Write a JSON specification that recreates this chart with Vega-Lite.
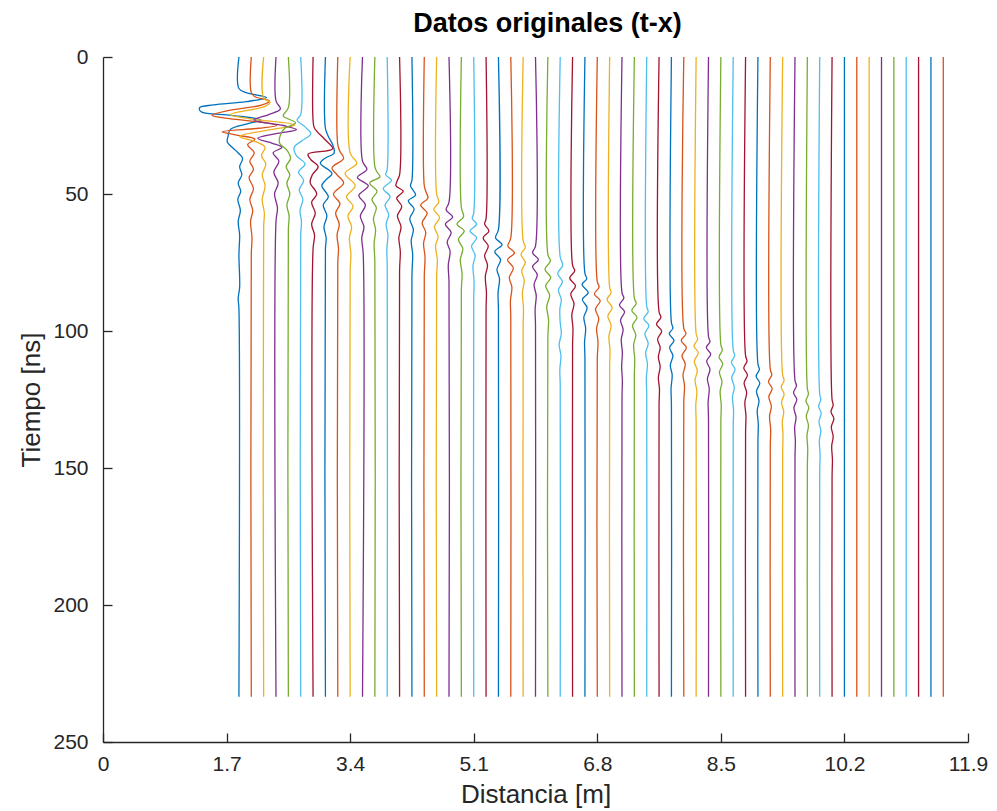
{
"$schema":"https://vega.github.io/schema/vega-lite/v6.json",
"width":865,"height":685,
"autosize":{"type":"none"},
"padding":{"left":103,"top":57,"right":29,"bottom":69},
"background":"white",
"title":{"text":"Datos originales (t-x)","fontSize":27,"fontWeight":"bold","font":"Liberation Sans","color":"black","anchor":"middle","offset":8,"dx":12},
"config":{"view":{"stroke":null},"axis":{"grid":false,"domainColor":"#262626","tickColor":"#262626","labelColor":"#262626","titleColor":"#262626","labelFont":"Liberation Sans","titleFont":"Liberation Sans","labelFontSize":21,"titleFontSize":26,"titleFontWeight":"normal","tickSize":-9,"domainWidth":1.3,"tickWidth":1.3,"labelFlush":false}},
"data":{"values":[
{"k":0,"t":0,"x":1.87},{"k":0,"t":11.5,"x":1.87},{"k":0,"t":13,"x":1.97},{"k":0,"t":14.8,"x":2.25},{"k":0,"t":16.3,"x":1.97},{"k":0,"t":17.5,"x":1.52},{"k":0,"t":18.5,"x":1.33},{"k":0,"t":20,"x":1.35},{"k":0,"t":21.3,"x":1.77},{"k":0,"t":23,"x":2.17},{"k":0,"t":24.5,"x":1.97},{"k":0,"t":26.5,"x":1.75},{"k":0,"t":29,"x":1.72},{"k":0,"t":31,"x":1.71},{"k":0,"t":34,"x":1.82},{"k":0,"t":37,"x":1.92},{"k":0,"t":40,"x":1.88},{"k":0,"t":43,"x":1.91},{"k":0,"t":46,"x":1.86},{"k":0,"t":49,"x":1.895},{"k":0,"t":52,"x":1.855},{"k":0,"t":56,"x":1.89},{"k":0,"t":60,"x":1.86},{"k":0,"t":65,"x":1.88},{"k":0,"t":72,"x":1.87},{"k":0,"t":84,"x":1.88},{"k":0,"t":88,"x":1.86},{"k":0,"t":92,"x":1.87},{"k":0,"t":233.5,"x":1.87},
{"k":1,"t":0,"x":2.04},{"k":1,"t":13,"x":2.04},{"k":1,"t":14.5,"x":2.09},{"k":1,"t":16,"x":2.29},{"k":1,"t":17.5,"x":2.19},{"k":1,"t":19.5,"x":1.74},{"k":1,"t":21.3,"x":1.5},{"k":1,"t":22.5,"x":1.74},{"k":1,"t":24,"x":2.24},{"k":1,"t":25,"x":2.39},{"k":1,"t":26,"x":2.14},{"k":1,"t":27.3,"x":1.64},{"k":1,"t":28.5,"x":1.84},{"k":1,"t":30,"x":2.09},{"k":1,"t":32,"x":1.99},{"k":1,"t":35,"x":2.08},{"k":1,"t":38,"x":2.02},{"k":1,"t":41,"x":2.07},{"k":1,"t":44,"x":2.01},{"k":1,"t":48,"x":2.07},{"k":1,"t":52,"x":2.02},{"k":1,"t":56,"x":2.06},{"k":1,"t":60,"x":2.03},{"k":1,"t":66,"x":2.05},{"k":1,"t":72,"x":2.04},{"k":1,"t":233.5,"x":2.04},
{"k":2,"t":0,"x":2.21},{"k":2,"t":15,"x":2.21},{"k":2,"t":16.5,"x":2.3},{"k":2,"t":18,"x":2.23},{"k":2,"t":21,"x":1.75},{"k":2,"t":22.5,"x":2.01},{"k":2,"t":24.8,"x":2.64},{"k":2,"t":26.5,"x":2.31},{"k":2,"t":29,"x":1.88},{"k":2,"t":31,"x":2.11},{"k":2,"t":33,"x":2.23},{"k":2,"t":36,"x":2.18},{"k":2,"t":39,"x":2.24},{"k":2,"t":43,"x":2.19},{"k":2,"t":47,"x":2.23},{"k":2,"t":52,"x":2.19},{"k":2,"t":57,"x":2.22},{"k":2,"t":62,"x":2.21},{"k":2,"t":233.5,"x":2.21},
{"k":3,"t":0,"x":2.38},{"k":3,"t":16,"x":2.38},{"k":3,"t":19,"x":2.44},{"k":3,"t":21,"x":2.28},{"k":3,"t":23,"x":2.08},{"k":3,"t":25,"x":2.48},{"k":3,"t":26.5,"x":2.66},{"k":3,"t":28,"x":2.38},{"k":3,"t":29.7,"x":2.13},{"k":3,"t":31.5,"x":2.33},{"k":3,"t":33,"x":2.46},{"k":3,"t":35,"x":2.34},{"k":3,"t":38,"x":2.42},{"k":3,"t":42,"x":2.35},{"k":3,"t":46,"x":2.41},{"k":3,"t":50,"x":2.36},{"k":3,"t":55,"x":2.4},{"k":3,"t":60,"x":2.38},{"k":3,"t":233.5,"x":2.38},
{"k":4,"t":0,"x":2.55},{"k":4,"t":18.5,"x":2.55},{"k":4,"t":21.5,"x":2.48},{"k":4,"t":24,"x":2.65},{"k":4,"t":26,"x":2.5},{"k":4,"t":28.5,"x":2.44},{"k":4,"t":31.5,"x":2.43},{"k":4,"t":34,"x":2.53},{"k":4,"t":37,"x":2.58},{"k":4,"t":40,"x":2.52},{"k":4,"t":43,"x":2.57},{"k":4,"t":46,"x":2.53},{"k":4,"t":50,"x":2.57},{"k":4,"t":54,"x":2.53},{"k":4,"t":58,"x":2.56},{"k":4,"t":63,"x":2.55},{"k":4,"t":233.5,"x":2.55},
{"k":5,"t":0,"x":2.72},{"k":5,"t":21,"x":2.72},{"k":5,"t":23,"x":2.67},{"k":5,"t":25.5,"x":2.78},{"k":5,"t":28,"x":2.86},{"k":5,"t":30.5,"x":2.74},{"k":5,"t":33,"x":2.63},{"k":5,"t":36,"x":2.66},{"k":5,"t":39,"x":2.78},{"k":5,"t":42,"x":2.69},{"k":5,"t":45,"x":2.76},{"k":5,"t":48.5,"x":2.7},{"k":5,"t":52,"x":2.75},{"k":5,"t":56,"x":2.71},{"k":5,"t":60,"x":2.73},{"k":5,"t":65,"x":2.72},{"k":5,"t":233.5,"x":2.72},
{"k":6,"t":0,"x":2.89},{"k":6,"t":23,"x":2.89},{"k":6,"t":26,"x":2.91},{"k":6,"t":30,"x":3.05},{"k":6,"t":33.5,"x":3.16},{"k":6,"t":35.5,"x":2.82},{"k":6,"t":37.5,"x":2.86},{"k":6,"t":40,"x":2.96},{"k":6,"t":43,"x":2.88},{"k":6,"t":45.8,"x":2.85},{"k":6,"t":50,"x":2.94},{"k":6,"t":53,"x":2.87},{"k":6,"t":57,"x":2.92},{"k":6,"t":61,"x":2.87},{"k":6,"t":65,"x":2.91},{"k":6,"t":70,"x":2.89},{"k":6,"t":233.5,"x":2.89},
{"k":7,"t":0,"x":3.06},{"k":7,"t":26,"x":3.06},{"k":7,"t":29,"x":3.1},{"k":7,"t":32,"x":3.16},{"k":7,"t":35,"x":3.18},{"k":7,"t":37,"x":3.05},{"k":7,"t":38.8,"x":2.99},{"k":7,"t":42.5,"x":3.15},{"k":7,"t":45,"x":3.06},{"k":7,"t":47,"x":3.01},{"k":7,"t":51,"x":3.1},{"k":7,"t":54,"x":3.03},{"k":7,"t":58,"x":3.08},{"k":7,"t":62,"x":3.04},{"k":7,"t":66,"x":3.07},{"k":7,"t":70,"x":3.06},{"k":7,"t":233.5,"x":3.06},
{"k":8,"t":0,"x":3.23},{"k":8,"t":32,"x":3.23},{"k":8,"t":34.5,"x":3.26},{"k":8,"t":37,"x":3.31},{"k":8,"t":40.5,"x":3.15},{"k":8,"t":43,"x":3.22},{"k":8,"t":46,"x":3.31},{"k":8,"t":50,"x":3.17},{"k":8,"t":53.5,"x":3.26},{"k":8,"t":57,"x":3.2},{"k":8,"t":61,"x":3.25},{"k":8,"t":65,"x":3.22},{"k":8,"t":70,"x":3.24},{"k":8,"t":75,"x":3.23},{"k":8,"t":233.5,"x":3.23},
{"k":9,"t":0,"x":3.4},{"k":9,"t":35,"x":3.4},{"k":9,"t":38.8,"x":3.49},{"k":9,"t":42.5,"x":3.33},{"k":9,"t":47,"x":3.47},{"k":9,"t":51,"x":3.35},{"k":9,"t":54.5,"x":3.44},{"k":9,"t":58,"x":3.37},{"k":9,"t":62,"x":3.42},{"k":9,"t":66,"x":3.39},{"k":9,"t":72,"x":3.41},{"k":9,"t":78,"x":3.4},{"k":9,"t":233.5,"x":3.4},
{"k":10,"t":0,"x":3.57},{"k":10,"t":38,"x":3.57},{"k":10,"t":41,"x":3.63},{"k":10,"t":44,"x":3.5},{"k":10,"t":47,"x":3.65},{"k":10,"t":50.5,"x":3.52},{"k":10,"t":54,"x":3.61},{"k":10,"t":58,"x":3.54},{"k":10,"t":62,"x":3.59},{"k":10,"t":66,"x":3.56},{"k":10,"t":72,"x":3.58},{"k":10,"t":233.5,"x":3.57},
{"k":11,"t":0,"x":3.74},{"k":11,"t":40,"x":3.74},{"k":11,"t":42,"x":3.77},{"k":11,"t":43.7,"x":3.81},{"k":11,"t":46,"x":3.67},{"k":11,"t":49,"x":3.77},{"k":11,"t":52,"x":3.7},{"k":11,"t":55,"x":3.76},{"k":11,"t":59,"x":3.72},{"k":11,"t":63,"x":3.75},{"k":11,"t":68,"x":3.73},{"k":11,"t":75,"x":3.74},{"k":11,"t":233.5,"x":3.74},
{"k":12,"t":0,"x":3.91},{"k":12,"t":41,"x":3.91},{"k":12,"t":43,"x":3.89},{"k":12,"t":45,"x":3.97},{"k":12,"t":48,"x":3.855},{"k":12,"t":51,"x":3.95},{"k":12,"t":54,"x":3.88},{"k":12,"t":57.5,"x":3.93},{"k":12,"t":61,"x":3.895},{"k":12,"t":65,"x":3.92},{"k":12,"t":70,"x":3.905},{"k":12,"t":76,"x":3.91},{"k":12,"t":233.5,"x":3.91},
{"k":13,"t":0,"x":4.08},{"k":13,"t":43,"x":4.08},{"k":13,"t":45,"x":4.05},{"k":13,"t":47,"x":4.03},{"k":13,"t":49,"x":4.13},{"k":13,"t":51.5,"x":4.04},{"k":13,"t":54.5,"x":4.11},{"k":13,"t":58,"x":4.05},{"k":13,"t":62,"x":4.1},{"k":13,"t":66,"x":4.07},{"k":13,"t":71,"x":4.09},{"k":13,"t":78,"x":4.08},{"k":13,"t":233.5,"x":4.08},
{"k":14,"t":0,"x":4.25},{"k":14,"t":45,"x":4.25},{"k":14,"t":47,"x":4.23},{"k":14,"t":50.4,"x":4.3},{"k":14,"t":52.5,"x":4.2},{"k":14,"t":55.5,"x":4.28},{"k":14,"t":59,"x":4.22},{"k":14,"t":63,"x":4.27},{"k":14,"t":67,"x":4.24},{"k":14,"t":72,"x":4.26},{"k":14,"t":80,"x":4.25},{"k":14,"t":233.5,"x":4.25},
{"k":15,"t":0,"x":4.42},{"k":15,"t":47,"x":4.42},{"k":15,"t":49,"x":4.44},{"k":15,"t":51.5,"x":4.47},{"k":15,"t":54,"x":4.37},{"k":15,"t":57,"x":4.46},{"k":15,"t":60.5,"x":4.39},{"k":15,"t":64,"x":4.44},{"k":15,"t":68,"x":4.41},{"k":15,"t":73,"x":4.43},{"k":15,"t":80,"x":4.42},{"k":15,"t":233.5,"x":4.42},
{"k":16,"t":0,"x":4.59},{"k":16,"t":50,"x":4.59},{"k":16,"t":53,"x":4.62},{"k":16,"t":55.6,"x":4.55},{"k":16,"t":58.5,"x":4.63},{"k":16,"t":62,"x":4.56},{"k":16,"t":65.5,"x":4.61},{"k":16,"t":69,"x":4.575},{"k":16,"t":74,"x":4.6},{"k":16,"t":80,"x":4.59},{"k":16,"t":233.5,"x":4.59},
{"k":17,"t":0,"x":4.76},{"k":17,"t":53,"x":4.76},{"k":17,"t":55.8,"x":4.72},{"k":17,"t":58.4,"x":4.81},{"k":17,"t":61,"x":4.71},{"k":17,"t":64,"x":4.79},{"k":17,"t":67.5,"x":4.735},{"k":17,"t":71,"x":4.775},{"k":17,"t":76,"x":4.75},{"k":17,"t":82,"x":4.76},{"k":17,"t":233.5,"x":4.76},
{"k":18,"t":0,"x":4.93},{"k":18,"t":55,"x":4.93},{"k":18,"t":58.3,"x":4.96},{"k":18,"t":61,"x":4.87},{"k":18,"t":63.5,"x":4.97},{"k":18,"t":66.5,"x":4.89},{"k":18,"t":70,"x":4.95},{"k":18,"t":74,"x":4.915},{"k":18,"t":79,"x":4.94},{"k":18,"t":85,"x":4.93},{"k":18,"t":233.5,"x":4.93},
{"k":19,"t":0,"x":5.1},{"k":19,"t":57,"x":5.1},{"k":19,"t":59,"x":5.08},{"k":19,"t":61,"x":5.14},{"k":19,"t":63.5,"x":5.05},{"k":19,"t":66,"x":5.14},{"k":19,"t":69,"x":5.07},{"k":19,"t":72.5,"x":5.12},{"k":19,"t":76,"x":5.09},{"k":19,"t":82,"x":5.105},{"k":19,"t":88,"x":5.1},{"k":19,"t":233.5,"x":5.1},
{"k":20,"t":0,"x":5.27},{"k":20,"t":59,"x":5.27},{"k":20,"t":61,"x":5.25},{"k":20,"t":63.5,"x":5.31},{"k":20,"t":66,"x":5.23},{"k":20,"t":69,"x":5.3},{"k":20,"t":72.5,"x":5.25},{"k":20,"t":76,"x":5.29},{"k":20,"t":80,"x":5.26},{"k":20,"t":86,"x":5.275},{"k":20,"t":92,"x":5.27},{"k":20,"t":233.5,"x":5.27},
{"k":21,"t":0,"x":5.44},{"k":21,"t":63,"x":5.44},{"k":21,"t":66,"x":5.4},{"k":21,"t":68.5,"x":5.49},{"k":21,"t":71,"x":5.39},{"k":21,"t":74,"x":5.47},{"k":21,"t":77.5,"x":5.42},{"k":21,"t":81,"x":5.455},{"k":21,"t":86,"x":5.435},{"k":21,"t":92,"x":5.44},{"k":21,"t":233.5,"x":5.44},
{"k":22,"t":0,"x":5.61},{"k":22,"t":66,"x":5.61},{"k":22,"t":69,"x":5.57},{"k":22,"t":71.5,"x":5.66},{"k":22,"t":74,"x":5.565},{"k":22,"t":77,"x":5.645},{"k":22,"t":80.5,"x":5.59},{"k":22,"t":84,"x":5.625},{"k":22,"t":89,"x":5.605},{"k":22,"t":95,"x":5.61},{"k":22,"t":233.5,"x":5.61},
{"k":23,"t":0,"x":5.78},{"k":23,"t":67,"x":5.78},{"k":23,"t":69.5,"x":5.81},{"k":23,"t":72,"x":5.75},{"k":23,"t":75,"x":5.81},{"k":23,"t":78,"x":5.76},{"k":23,"t":81.5,"x":5.795},{"k":23,"t":86,"x":5.77},{"k":23,"t":92,"x":5.785},{"k":23,"t":98,"x":5.78},{"k":23,"t":233.5,"x":5.78},
{"k":24,"t":0,"x":5.95},{"k":24,"t":69,"x":5.95},{"k":24,"t":71.5,"x":5.91},{"k":24,"t":74,"x":5.99},{"k":24,"t":76.5,"x":5.91},{"k":24,"t":79.5,"x":5.975},{"k":24,"t":83,"x":5.93},{"k":24,"t":87,"x":5.96},{"k":24,"t":92,"x":5.945},{"k":24,"t":98,"x":5.95},{"k":24,"t":233.5,"x":5.95},
{"k":25,"t":0,"x":6.12},{"k":25,"t":72,"x":6.12},{"k":25,"t":74.5,"x":6.155},{"k":25,"t":77.5,"x":6.08},{"k":25,"t":80.5,"x":6.16},{"k":25,"t":83.5,"x":6.09},{"k":25,"t":87,"x":6.145},{"k":25,"t":91,"x":6.105},{"k":25,"t":96,"x":6.13},{"k":25,"t":102,"x":6.12},{"k":25,"t":233.5,"x":6.12},
{"k":26,"t":0,"x":6.29},{"k":26,"t":73,"x":6.29},{"k":26,"t":76,"x":6.325},{"k":26,"t":79,"x":6.255},{"k":26,"t":82,"x":6.32},{"k":26,"t":85,"x":6.265},{"k":26,"t":88.5,"x":6.305},{"k":26,"t":92,"x":6.285},{"k":26,"t":97,"x":6.29},{"k":26,"t":101,"x":6.305},{"k":26,"t":105,"x":6.275},{"k":26,"t":109,"x":6.3},{"k":26,"t":114,"x":6.285},{"k":26,"t":120,"x":6.29},{"k":26,"t":233.5,"x":6.29},
{"k":27,"t":0,"x":6.46},{"k":27,"t":76,"x":6.46},{"k":27,"t":78,"x":6.49},{"k":27,"t":80.7,"x":6.42},{"k":27,"t":83.5,"x":6.5},{"k":27,"t":86.5,"x":6.435},{"k":27,"t":90,"x":6.48},{"k":27,"t":94,"x":6.45},{"k":27,"t":99,"x":6.465},{"k":27,"t":105,"x":6.46},{"k":27,"t":233.5,"x":6.46},
{"k":28,"t":0,"x":6.63},{"k":28,"t":79,"x":6.63},{"k":28,"t":81,"x":6.655},{"k":28,"t":83,"x":6.59},{"k":28,"t":86,"x":6.675},{"k":28,"t":88.5,"x":6.595},{"k":28,"t":91.5,"x":6.66},{"k":28,"t":95,"x":6.615},{"k":28,"t":99,"x":6.64},{"k":28,"t":104,"x":6.625},{"k":28,"t":110,"x":6.63},{"k":28,"t":233.5,"x":6.63},
{"k":29,"t":0,"x":6.8},{"k":29,"t":82,"x":6.8},{"k":29,"t":84,"x":6.825},{"k":29,"t":86.5,"x":6.76},{"k":29,"t":89,"x":6.84},{"k":29,"t":92,"x":6.775},{"k":29,"t":95.5,"x":6.82},{"k":29,"t":99,"x":6.79},{"k":29,"t":104,"x":6.81},{"k":29,"t":110,"x":6.8},{"k":29,"t":233.5,"x":6.8},
{"k":30,"t":0,"x":6.97},{"k":30,"t":84,"x":6.97},{"k":30,"t":86,"x":6.99},{"k":30,"t":88.5,"x":6.935},{"k":30,"t":91.5,"x":7.005},{"k":30,"t":94.5,"x":6.945},{"k":30,"t":98,"x":6.99},{"k":30,"t":102,"x":6.96},{"k":30,"t":107,"x":6.975},{"k":30,"t":113,"x":6.97},{"k":30,"t":233.5,"x":6.97},
{"k":31,"t":0,"x":7.14},{"k":31,"t":86,"x":7.14},{"k":31,"t":88,"x":7.165},{"k":31,"t":90.5,"x":7.105},{"k":31,"t":93,"x":7.175},{"k":31,"t":96,"x":7.12},{"k":31,"t":99.5,"x":7.155},{"k":31,"t":103,"x":7.13},{"k":31,"t":108,"x":7.145},{"k":31,"t":113,"x":7.135},{"k":31,"t":118,"x":7.145},{"k":31,"t":124,"x":7.14},{"k":31,"t":233.5,"x":7.14},
{"k":32,"t":0,"x":7.31},{"k":32,"t":88,"x":7.31},{"k":32,"t":90,"x":7.335},{"k":32,"t":92.5,"x":7.275},{"k":32,"t":95,"x":7.345},{"k":32,"t":98,"x":7.285},{"k":32,"t":101.5,"x":7.33},{"k":32,"t":105,"x":7.3},{"k":32,"t":110,"x":7.315},{"k":32,"t":116,"x":7.31},{"k":32,"t":233.5,"x":7.31},
{"k":33,"t":0,"x":7.48},{"k":33,"t":91,"x":7.48},{"k":33,"t":93,"x":7.5},{"k":33,"t":95.5,"x":7.44},{"k":33,"t":98,"x":7.51},{"k":33,"t":101,"x":7.455},{"k":33,"t":104.5,"x":7.5},{"k":33,"t":108,"x":7.465},{"k":33,"t":112,"x":7.49},{"k":33,"t":117,"x":7.475},{"k":33,"t":123,"x":7.48},{"k":33,"t":233.5,"x":7.48},
{"k":34,"t":0,"x":7.65},{"k":34,"t":93,"x":7.65},{"k":34,"t":95,"x":7.675},{"k":34,"t":97.5,"x":7.615},{"k":34,"t":100,"x":7.685},{"k":34,"t":103,"x":7.63},{"k":34,"t":106,"x":7.665},{"k":34,"t":109.5,"x":7.64},{"k":34,"t":113,"x":7.665},{"k":34,"t":117,"x":7.64},{"k":34,"t":121,"x":7.655},{"k":34,"t":127,"x":7.65},{"k":34,"t":233.5,"x":7.65},
{"k":35,"t":0,"x":7.82},{"k":35,"t":97,"x":7.82},{"k":35,"t":99,"x":7.84},{"k":35,"t":101,"x":7.79},{"k":35,"t":103.5,"x":7.855},{"k":35,"t":106,"x":7.795},{"k":35,"t":109,"x":7.84},{"k":35,"t":112.5,"x":7.805},{"k":35,"t":116,"x":7.83},{"k":35,"t":121,"x":7.815},{"k":35,"t":127,"x":7.82},{"k":35,"t":233.5,"x":7.82},
{"k":36,"t":0,"x":7.99},{"k":36,"t":99,"x":7.99},{"k":36,"t":101,"x":8.02},{"k":36,"t":103.5,"x":7.955},{"k":36,"t":106,"x":8.025},{"k":36,"t":109,"x":7.965},{"k":36,"t":112,"x":8.01},{"k":36,"t":116,"x":7.98},{"k":36,"t":120,"x":8.0},{"k":36,"t":126,"x":7.99},{"k":36,"t":233.5,"x":7.99},
{"k":37,"t":0,"x":8.16},{"k":37,"t":101,"x":8.16},{"k":37,"t":103,"x":8.18},{"k":37,"t":105.5,"x":8.13},{"k":37,"t":108,"x":8.19},{"k":37,"t":111,"x":8.135},{"k":37,"t":114.5,"x":8.175},{"k":37,"t":118,"x":8.145},{"k":37,"t":122,"x":8.17},{"k":37,"t":127,"x":8.155},{"k":37,"t":133,"x":8.16},{"k":37,"t":233.5,"x":8.16},
{"k":38,"t":0,"x":8.33},{"k":38,"t":102,"x":8.33},{"k":38,"t":104,"x":8.35},{"k":38,"t":106,"x":8.3},{"k":38,"t":108.5,"x":8.36},{"k":38,"t":111,"x":8.305},{"k":38,"t":114,"x":8.35},{"k":38,"t":117.5,"x":8.315},{"k":38,"t":121,"x":8.34},{"k":38,"t":126,"x":8.325},{"k":38,"t":132,"x":8.33},{"k":38,"t":233.5,"x":8.33},
{"k":39,"t":0,"x":8.5},{"k":39,"t":105,"x":8.5},{"k":39,"t":107,"x":8.52},{"k":39,"t":109.5,"x":8.475},{"k":39,"t":112,"x":8.525},{"k":39,"t":115,"x":8.48},{"k":39,"t":118.5,"x":8.515},{"k":39,"t":122,"x":8.49},{"k":39,"t":127,"x":8.505},{"k":39,"t":133,"x":8.5},{"k":39,"t":233.5,"x":8.5},
{"k":40,"t":0,"x":8.67},{"k":40,"t":107,"x":8.67},{"k":40,"t":109,"x":8.69},{"k":40,"t":111.5,"x":8.645},{"k":40,"t":114,"x":8.695},{"k":40,"t":117,"x":8.65},{"k":40,"t":120.5,"x":8.685},{"k":40,"t":124,"x":8.66},{"k":40,"t":129,"x":8.675},{"k":40,"t":135,"x":8.67},{"k":40,"t":233.5,"x":8.67},
{"k":41,"t":0,"x":8.84},{"k":41,"t":109,"x":8.84},{"k":41,"t":111,"x":8.86},{"k":41,"t":113.5,"x":8.815},{"k":41,"t":116,"x":8.865},{"k":41,"t":119,"x":8.82},{"k":41,"t":122.5,"x":8.855},{"k":41,"t":126,"x":8.83},{"k":41,"t":131,"x":8.845},{"k":41,"t":137,"x":8.84},{"k":41,"t":233.5,"x":8.84},
{"k":42,"t":0,"x":9.01},{"k":42,"t":112,"x":9.01},{"k":42,"t":114,"x":9.03},{"k":42,"t":116.5,"x":8.985},{"k":42,"t":119,"x":9.035},{"k":42,"t":122,"x":8.99},{"k":42,"t":125.5,"x":9.025},{"k":42,"t":129,"x":9.0},{"k":42,"t":134,"x":9.015},{"k":42,"t":140,"x":9.01},{"k":42,"t":233.5,"x":9.01},
{"k":43,"t":0,"x":9.18},{"k":43,"t":114,"x":9.18},{"k":43,"t":116,"x":9.2},{"k":43,"t":118.5,"x":9.155},{"k":43,"t":121,"x":9.205},{"k":43,"t":124,"x":9.16},{"k":43,"t":127.5,"x":9.195},{"k":43,"t":131,"x":9.17},{"k":43,"t":136,"x":9.185},{"k":43,"t":142,"x":9.18},{"k":43,"t":233.5,"x":9.18},
{"k":44,"t":0,"x":9.35},{"k":44,"t":116,"x":9.35},{"k":44,"t":118,"x":9.37},{"k":44,"t":120.5,"x":9.33},{"k":44,"t":123,"x":9.37},{"k":44,"t":126,"x":9.335},{"k":44,"t":129.5,"x":9.365},{"k":44,"t":133,"x":9.345},{"k":44,"t":138,"x":9.355},{"k":44,"t":144,"x":9.35},{"k":44,"t":233.5,"x":9.35},
{"k":45,"t":0,"x":9.52},{"k":45,"t":118,"x":9.52},{"k":45,"t":120,"x":9.54},{"k":45,"t":122.5,"x":9.5},{"k":45,"t":125,"x":9.545},{"k":45,"t":128,"x":9.505},{"k":45,"t":131.5,"x":9.535},{"k":45,"t":135,"x":9.515},{"k":45,"t":140,"x":9.525},{"k":45,"t":146,"x":9.52},{"k":45,"t":233.5,"x":9.52},
{"k":46,"t":0,"x":9.69},{"k":46,"t":121,"x":9.69},{"k":46,"t":123,"x":9.705},{"k":46,"t":125.5,"x":9.67},{"k":46,"t":128,"x":9.71},{"k":46,"t":131,"x":9.675},{"k":46,"t":134.5,"x":9.705},{"k":46,"t":138,"x":9.685},{"k":46,"t":143,"x":9.695},{"k":46,"t":149,"x":9.69},{"k":46,"t":233.5,"x":9.69},
{"k":47,"t":0,"x":9.86},{"k":47,"t":123,"x":9.86},{"k":47,"t":125,"x":9.875},{"k":47,"t":127.5,"x":9.845},{"k":47,"t":130,"x":9.88},{"k":47,"t":133,"x":9.85},{"k":47,"t":136.5,"x":9.875},{"k":47,"t":140,"x":9.855},{"k":47,"t":145,"x":9.865},{"k":47,"t":151,"x":9.86},{"k":47,"t":233.5,"x":9.86},
{"k":48,"t":0,"x":10.03},{"k":48,"t":125,"x":10.03},{"k":48,"t":127,"x":10.045},{"k":48,"t":129.5,"x":10.015},{"k":48,"t":132,"x":10.055},{"k":48,"t":135,"x":10.02},{"k":48,"t":138.5,"x":10.045},{"k":48,"t":142,"x":10.025},{"k":48,"t":147,"x":10.035},{"k":48,"t":153,"x":10.03},{"k":48,"t":233.5,"x":10.03},
{"k":49,"t":0,"x":10.2},{"k":49,"t":233.5,"x":10.2},
{"k":50,"t":0,"x":10.37},{"k":50,"t":233.5,"x":10.37},
{"k":51,"t":0,"x":10.54},{"k":51,"t":233.5,"x":10.54},
{"k":52,"t":0,"x":10.71},{"k":52,"t":233.5,"x":10.71},
{"k":53,"t":0,"x":10.88},{"k":53,"t":233.5,"x":10.88},
{"k":54,"t":0,"x":11.05},{"k":54,"t":233.5,"x":11.05},
{"k":55,"t":0,"x":11.22},{"k":55,"t":233.5,"x":11.22},
{"k":56,"t":0,"x":11.39},{"k":56,"t":233.5,"x":11.39},
{"k":57,"t":0,"x":11.56},{"k":57,"t":233.5,"x":11.56}
]},
"mark":{"type":"line","interpolate":"catmull-rom","strokeWidth":1.3},
"encoding":{
"x":{"field":"x","type":"quantitative","scale":{"domain":[0,11.9],"nice":false,"zero":false},"axis":{"values":[0,1.7,3.4,5.1,6.8,8.5,10.2,11.9],"format":".1~f","title":"Distancia [m]","labelPadding":20,"titlePadding":7}},
"y":{"field":"t","type":"quantitative","scale":{"domain":[0,250],"reverse":true,"nice":false,"zero":false},"axis":{"values":[0,50,100,150,200,250],"title":"Tiempo [ns]","labelPadding":24,"titlePadding":8}},
"color":{"field":"k","type":"nominal","legend":null,"scale":{"domain":[0,1,2,3,4,5,6,7,8,9,10,11,12,13,14,15,16,17,18,19,20,21,22,23,24,25,26,27,28,29,30,31,32,33,34,35,36,37,38,39,40,41,42,43,44,45,46,47,48,49,50,51,52,53,54,55,56,57],"range":["#0072BD","#D95319","#EDB120","#7E2F8E","#77AC30","#4DBEEE","#A2142F","#0072BD","#D95319","#EDB120","#7E2F8E","#77AC30","#4DBEEE","#A2142F","#0072BD","#D95319","#EDB120","#7E2F8E","#77AC30","#4DBEEE","#A2142F","#0072BD","#D95319","#EDB120","#7E2F8E","#77AC30","#4DBEEE","#A2142F","#0072BD","#D95319","#EDB120","#7E2F8E","#77AC30","#4DBEEE","#A2142F","#0072BD","#D95319","#EDB120","#7E2F8E","#77AC30","#4DBEEE","#A2142F","#0072BD","#D95319","#EDB120","#7E2F8E","#77AC30","#4DBEEE","#A2142F","#0072BD","#D95319","#EDB120","#7E2F8E","#77AC30","#4DBEEE","#A2142F","#0072BD","#D95319"]}},
"order":{"field":"t","type":"quantitative"}
}
}
